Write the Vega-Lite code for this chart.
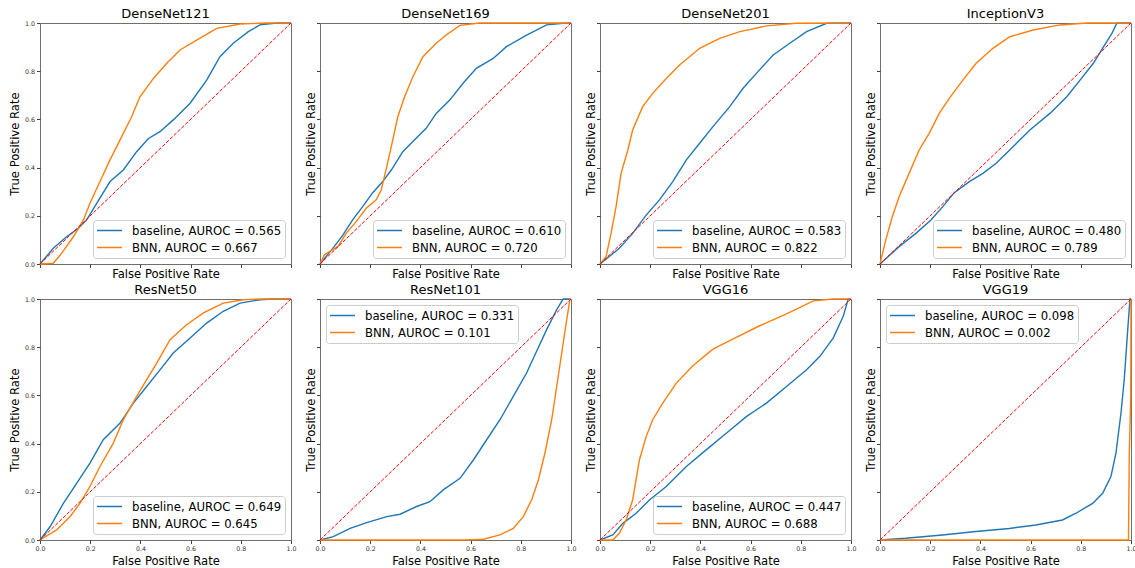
{
  "$schema": "https://vega.github.io/schema/vega-lite/v6.json",
  "padding": {"left": 8, "top": 7, "right": 0, "bottom": 0},
  "background": "white",
  "bounds": "flush",
  "columns": 4,
  "spacing": {"column": 29, "row": 35},
  "resolve": {"scale": {"color": "independent"}, "legend": {"color": "independent"}},
  "config": {
    "font": "DejaVu Sans",
    "view": {"stroke": "#6e6e6e", "strokeWidth": 1},
    "title": {"fontSize": 13, "fontWeight": "normal", "font": "DejaVu Sans", "color": "#000", "offset": -1, "frame": "group"},
    "axis": {
      "grid": false, "domain": false,
      "labelFont": "DejaVu Sans", "labelFontSize": 6.3, "labelColor": "#333",
      "titleFont": "DejaVu Sans", "titleFontSize": 11.6, "titleFontWeight": "normal", "titleColor": "#000",
      "tickSize": 3.5, "tickColor": "#444", "labelPadding": 2,
      "labelFlush": false, "labelOverlap": false,
      "values": [0, 0.2, 0.4, 0.6, 0.8, 1], "format": ".1f"
    },
    "legend": {
      "fillColor": "rgba(255,255,255,0.8)", "strokeColor": "#cccccc", "cornerRadius": 3,
      "padding": 3.5, "offset": 6, "symbolType": "M-2.08,0H2.08", "symbolSize": 144, "symbolStrokeWidth": 1.5,
      "symbolOffset": 6,
      "labelFont": "DejaVu Sans", "labelFontSize": 11.7, "labelColor": "#000", "labelOffset": 15.5, "rowPadding": 3
    }
  },
  "data": {"values": [
    {"model":"DenseNet121","series":"baseline","fpr":0,"tpr":0},
    {"model":"DenseNet121","series":"baseline","fpr":0.053,"tpr":0.065},
    {"model":"DenseNet121","series":"baseline","fpr":0.106,"tpr":0.113},
    {"model":"DenseNet121","series":"baseline","fpr":0.153,"tpr":0.148},
    {"model":"DenseNet121","series":"baseline","fpr":0.186,"tpr":0.183},
    {"model":"DenseNet121","series":"baseline","fpr":0.226,"tpr":0.252},
    {"model":"DenseNet121","series":"baseline","fpr":0.279,"tpr":0.342},
    {"model":"DenseNet121","series":"baseline","fpr":0.332,"tpr":0.39},
    {"model":"DenseNet121","series":"baseline","fpr":0.385,"tpr":0.466},
    {"model":"DenseNet121","series":"baseline","fpr":0.432,"tpr":0.521},
    {"model":"DenseNet121","series":"baseline","fpr":0.478,"tpr":0.549},
    {"model":"DenseNet121","series":"baseline","fpr":0.531,"tpr":0.598},
    {"model":"DenseNet121","series":"baseline","fpr":0.598,"tpr":0.667},
    {"model":"DenseNet121","series":"baseline","fpr":0.664,"tpr":0.763},
    {"model":"DenseNet121","series":"baseline","fpr":0.717,"tpr":0.86},
    {"model":"DenseNet121","series":"baseline","fpr":0.77,"tpr":0.916},
    {"model":"DenseNet121","series":"baseline","fpr":0.83,"tpr":0.964},
    {"model":"DenseNet121","series":"baseline","fpr":0.876,"tpr":0.992},
    {"model":"DenseNet121","series":"baseline","fpr":0.943,"tpr":1},
    {"model":"DenseNet121","series":"baseline","fpr":1,"tpr":1},
    {"model":"DenseNet121","series":"BNN","fpr":0,"tpr":0},
    {"model":"DenseNet121","series":"BNN","fpr":0.053,"tpr":0.003},
    {"model":"DenseNet121","series":"BNN","fpr":0.086,"tpr":0.044},
    {"model":"DenseNet121","series":"BNN","fpr":0.133,"tpr":0.113},
    {"model":"DenseNet121","series":"BNN","fpr":0.173,"tpr":0.183},
    {"model":"DenseNet121","series":"BNN","fpr":0.199,"tpr":0.252},
    {"model":"DenseNet121","series":"BNN","fpr":0.239,"tpr":0.342},
    {"model":"DenseNet121","series":"BNN","fpr":0.279,"tpr":0.432},
    {"model":"DenseNet121","series":"BNN","fpr":0.319,"tpr":0.515},
    {"model":"DenseNet121","series":"BNN","fpr":0.365,"tpr":0.611},
    {"model":"DenseNet121","series":"BNN","fpr":0.398,"tpr":0.694},
    {"model":"DenseNet121","series":"BNN","fpr":0.452,"tpr":0.77},
    {"model":"DenseNet121","series":"BNN","fpr":0.505,"tpr":0.833},
    {"model":"DenseNet121","series":"BNN","fpr":0.558,"tpr":0.888},
    {"model":"DenseNet121","series":"BNN","fpr":0.624,"tpr":0.929},
    {"model":"DenseNet121","series":"BNN","fpr":0.704,"tpr":0.978},
    {"model":"DenseNet121","series":"BNN","fpr":0.797,"tpr":0.996},
    {"model":"DenseNet121","series":"BNN","fpr":0.903,"tpr":1},
    {"model":"DenseNet121","series":"BNN","fpr":1,"tpr":1},

    {"model":"DenseNet169","series":"baseline","fpr":0,"tpr":0},
    {"model":"DenseNet169","series":"baseline","fpr":0.051,"tpr":0.065},
    {"model":"DenseNet169","series":"baseline","fpr":0.091,"tpr":0.12},
    {"model":"DenseNet169","series":"baseline","fpr":0.13,"tpr":0.183},
    {"model":"DenseNet169","series":"baseline","fpr":0.17,"tpr":0.238},
    {"model":"DenseNet169","series":"baseline","fpr":0.21,"tpr":0.296},
    {"model":"DenseNet169","series":"baseline","fpr":0.25,"tpr":0.342},
    {"model":"DenseNet169","series":"baseline","fpr":0.284,"tpr":0.39},
    {"model":"DenseNet169","series":"baseline","fpr":0.33,"tpr":0.466},
    {"model":"DenseNet169","series":"baseline","fpr":0.37,"tpr":0.508},
    {"model":"DenseNet169","series":"baseline","fpr":0.423,"tpr":0.563},
    {"model":"DenseNet169","series":"baseline","fpr":0.463,"tpr":0.625},
    {"model":"DenseNet169","series":"baseline","fpr":0.517,"tpr":0.68},
    {"model":"DenseNet169","series":"baseline","fpr":0.57,"tpr":0.75},
    {"model":"DenseNet169","series":"baseline","fpr":0.623,"tpr":0.812},
    {"model":"DenseNet169","series":"baseline","fpr":0.69,"tpr":0.853},
    {"model":"DenseNet169","series":"baseline","fpr":0.743,"tpr":0.902},
    {"model":"DenseNet169","series":"baseline","fpr":0.823,"tpr":0.95},
    {"model":"DenseNet169","series":"baseline","fpr":0.903,"tpr":0.992},
    {"model":"DenseNet169","series":"baseline","fpr":0.969,"tpr":0.999},
    {"model":"DenseNet169","series":"baseline","fpr":1,"tpr":1},
    {"model":"DenseNet169","series":"BNN","fpr":0,"tpr":0},
    {"model":"DenseNet169","series":"BNN","fpr":0.017,"tpr":0.037},
    {"model":"DenseNet169","series":"BNN","fpr":0.037,"tpr":0.051},
    {"model":"DenseNet169","series":"BNN","fpr":0.071,"tpr":0.072},
    {"model":"DenseNet169","series":"BNN","fpr":0.104,"tpr":0.127},
    {"model":"DenseNet169","series":"BNN","fpr":0.144,"tpr":0.176},
    {"model":"DenseNet169","series":"BNN","fpr":0.184,"tpr":0.231},
    {"model":"DenseNet169","series":"BNN","fpr":0.224,"tpr":0.266},
    {"model":"DenseNet169","series":"BNN","fpr":0.244,"tpr":0.307},
    {"model":"DenseNet169","series":"BNN","fpr":0.266,"tpr":0.404},
    {"model":"DenseNet169","series":"BNN","fpr":0.284,"tpr":0.487},
    {"model":"DenseNet169","series":"BNN","fpr":0.31,"tpr":0.611},
    {"model":"DenseNet169","series":"BNN","fpr":0.337,"tpr":0.694},
    {"model":"DenseNet169","series":"BNN","fpr":0.37,"tpr":0.777},
    {"model":"DenseNet169","series":"BNN","fpr":0.41,"tpr":0.86},
    {"model":"DenseNet169","series":"BNN","fpr":0.463,"tpr":0.916},
    {"model":"DenseNet169","series":"BNN","fpr":0.503,"tpr":0.95},
    {"model":"DenseNet169","series":"BNN","fpr":0.557,"tpr":0.99},
    {"model":"DenseNet169","series":"BNN","fpr":0.636,"tpr":1},
    {"model":"DenseNet169","series":"BNN","fpr":1,"tpr":1},

    {"model":"DenseNet201","series":"baseline","fpr":0,"tpr":0},
    {"model":"DenseNet201","series":"baseline","fpr":0.077,"tpr":0.065},
    {"model":"DenseNet201","series":"baseline","fpr":0.13,"tpr":0.127},
    {"model":"DenseNet201","series":"baseline","fpr":0.184,"tpr":0.203},
    {"model":"DenseNet201","series":"baseline","fpr":0.237,"tpr":0.266},
    {"model":"DenseNet201","series":"baseline","fpr":0.29,"tpr":0.342},
    {"model":"DenseNet201","series":"baseline","fpr":0.344,"tpr":0.432},
    {"model":"DenseNet201","series":"baseline","fpr":0.397,"tpr":0.501},
    {"model":"DenseNet201","series":"baseline","fpr":0.45,"tpr":0.57},
    {"model":"DenseNet201","series":"baseline","fpr":0.517,"tpr":0.653},
    {"model":"DenseNet201","series":"baseline","fpr":0.57,"tpr":0.729},
    {"model":"DenseNet201","series":"baseline","fpr":0.623,"tpr":0.791},
    {"model":"DenseNet201","series":"baseline","fpr":0.69,"tpr":0.867},
    {"model":"DenseNet201","series":"baseline","fpr":0.756,"tpr":0.916},
    {"model":"DenseNet201","series":"baseline","fpr":0.823,"tpr":0.964},
    {"model":"DenseNet201","series":"baseline","fpr":0.903,"tpr":0.999},
    {"model":"DenseNet201","series":"baseline","fpr":1,"tpr":1},
    {"model":"DenseNet201","series":"BNN","fpr":0,"tpr":0},
    {"model":"DenseNet201","series":"BNN","fpr":0.024,"tpr":0.03},
    {"model":"DenseNet201","series":"BNN","fpr":0.044,"tpr":0.127},
    {"model":"DenseNet201","series":"BNN","fpr":0.064,"tpr":0.238},
    {"model":"DenseNet201","series":"BNN","fpr":0.084,"tpr":0.376},
    {"model":"DenseNet201","series":"BNN","fpr":0.111,"tpr":0.473},
    {"model":"DenseNet201","series":"BNN","fpr":0.13,"tpr":0.556},
    {"model":"DenseNet201","series":"BNN","fpr":0.17,"tpr":0.653},
    {"model":"DenseNet201","series":"BNN","fpr":0.21,"tpr":0.708},
    {"model":"DenseNet201","series":"BNN","fpr":0.264,"tpr":0.77},
    {"model":"DenseNet201","series":"BNN","fpr":0.317,"tpr":0.826},
    {"model":"DenseNet201","series":"BNN","fpr":0.397,"tpr":0.895},
    {"model":"DenseNet201","series":"BNN","fpr":0.477,"tpr":0.936},
    {"model":"DenseNet201","series":"BNN","fpr":0.557,"tpr":0.964},
    {"model":"DenseNet201","series":"BNN","fpr":0.663,"tpr":0.988},
    {"model":"DenseNet201","series":"BNN","fpr":0.783,"tpr":0.999},
    {"model":"DenseNet201","series":"BNN","fpr":1,"tpr":1},

    {"model":"InceptionV3","series":"baseline","fpr":0,"tpr":0},
    {"model":"InceptionV3","series":"baseline","fpr":0.076,"tpr":0.072},
    {"model":"InceptionV3","series":"baseline","fpr":0.143,"tpr":0.127},
    {"model":"InceptionV3","series":"baseline","fpr":0.203,"tpr":0.183},
    {"model":"InceptionV3","series":"baseline","fpr":0.25,"tpr":0.238},
    {"model":"InceptionV3","series":"baseline","fpr":0.296,"tpr":0.296},
    {"model":"InceptionV3","series":"baseline","fpr":0.356,"tpr":0.342},
    {"model":"InceptionV3","series":"baseline","fpr":0.41,"tpr":0.376},
    {"model":"InceptionV3","series":"baseline","fpr":0.463,"tpr":0.418},
    {"model":"InceptionV3","series":"baseline","fpr":0.53,"tpr":0.487},
    {"model":"InceptionV3","series":"baseline","fpr":0.597,"tpr":0.556},
    {"model":"InceptionV3","series":"baseline","fpr":0.677,"tpr":0.625},
    {"model":"InceptionV3","series":"baseline","fpr":0.744,"tpr":0.694},
    {"model":"InceptionV3","series":"baseline","fpr":0.797,"tpr":0.763},
    {"model":"InceptionV3","series":"baseline","fpr":0.85,"tpr":0.833},
    {"model":"InceptionV3","series":"baseline","fpr":0.891,"tpr":0.902},
    {"model":"InceptionV3","series":"baseline","fpr":0.924,"tpr":0.957},
    {"model":"InceptionV3","series":"baseline","fpr":0.944,"tpr":1},
    {"model":"InceptionV3","series":"baseline","fpr":1,"tpr":1},
    {"model":"InceptionV3","series":"BNN","fpr":0,"tpr":0},
    {"model":"InceptionV3","series":"BNN","fpr":0.023,"tpr":0.1},
    {"model":"InceptionV3","series":"BNN","fpr":0.049,"tpr":0.196},
    {"model":"InceptionV3","series":"BNN","fpr":0.076,"tpr":0.279},
    {"model":"InceptionV3","series":"BNN","fpr":0.116,"tpr":0.376},
    {"model":"InceptionV3","series":"BNN","fpr":0.156,"tpr":0.473},
    {"model":"InceptionV3","series":"BNN","fpr":0.196,"tpr":0.542},
    {"model":"InceptionV3","series":"BNN","fpr":0.236,"tpr":0.625},
    {"model":"InceptionV3","series":"BNN","fpr":0.276,"tpr":0.687},
    {"model":"InceptionV3","series":"BNN","fpr":0.33,"tpr":0.763},
    {"model":"InceptionV3","series":"BNN","fpr":0.383,"tpr":0.833},
    {"model":"InceptionV3","series":"BNN","fpr":0.45,"tpr":0.895},
    {"model":"InceptionV3","series":"BNN","fpr":0.517,"tpr":0.943},
    {"model":"InceptionV3","series":"BNN","fpr":0.61,"tpr":0.971},
    {"model":"InceptionV3","series":"BNN","fpr":0.717,"tpr":0.992},
    {"model":"InceptionV3","series":"BNN","fpr":0.824,"tpr":1},
    {"model":"InceptionV3","series":"BNN","fpr":1,"tpr":1},

    {"model":"ResNet50","series":"baseline","fpr":0,"tpr":0},
    {"model":"ResNet50","series":"baseline","fpr":0.04,"tpr":0.055},
    {"model":"ResNet50","series":"baseline","fpr":0.093,"tpr":0.152},
    {"model":"ResNet50","series":"baseline","fpr":0.146,"tpr":0.235},
    {"model":"ResNet50","series":"baseline","fpr":0.199,"tpr":0.319},
    {"model":"ResNet50","series":"baseline","fpr":0.252,"tpr":0.416},
    {"model":"ResNet50","series":"baseline","fpr":0.319,"tpr":0.485},
    {"model":"ResNet50","series":"baseline","fpr":0.372,"tpr":0.568},
    {"model":"ResNet50","series":"baseline","fpr":0.425,"tpr":0.637},
    {"model":"ResNet50","series":"baseline","fpr":0.478,"tpr":0.706},
    {"model":"ResNet50","series":"baseline","fpr":0.531,"tpr":0.776},
    {"model":"ResNet50","series":"baseline","fpr":0.598,"tpr":0.838},
    {"model":"ResNet50","series":"baseline","fpr":0.664,"tpr":0.9},
    {"model":"ResNet50","series":"baseline","fpr":0.73,"tpr":0.949},
    {"model":"ResNet50","series":"baseline","fpr":0.797,"tpr":0.983},
    {"model":"ResNet50","series":"baseline","fpr":0.876,"tpr":0.997},
    {"model":"ResNet50","series":"baseline","fpr":0.93,"tpr":1},
    {"model":"ResNet50","series":"baseline","fpr":1,"tpr":1},
    {"model":"ResNet50","series":"BNN","fpr":0,"tpr":0},
    {"model":"ResNet50","series":"BNN","fpr":0.066,"tpr":0.042},
    {"model":"ResNet50","series":"BNN","fpr":0.12,"tpr":0.097},
    {"model":"ResNet50","series":"BNN","fpr":0.159,"tpr":0.152},
    {"model":"ResNet50","series":"BNN","fpr":0.199,"tpr":0.222},
    {"model":"ResNet50","series":"BNN","fpr":0.239,"tpr":0.305},
    {"model":"ResNet50","series":"BNN","fpr":0.292,"tpr":0.402},
    {"model":"ResNet50","series":"BNN","fpr":0.332,"tpr":0.499},
    {"model":"ResNet50","series":"BNN","fpr":0.385,"tpr":0.596},
    {"model":"ResNet50","series":"BNN","fpr":0.425,"tpr":0.665},
    {"model":"ResNet50","series":"BNN","fpr":0.465,"tpr":0.734},
    {"model":"ResNet50","series":"BNN","fpr":0.518,"tpr":0.831},
    {"model":"ResNet50","series":"BNN","fpr":0.584,"tpr":0.893},
    {"model":"ResNet50","series":"BNN","fpr":0.651,"tpr":0.942},
    {"model":"ResNet50","series":"BNN","fpr":0.73,"tpr":0.983},
    {"model":"ResNet50","series":"BNN","fpr":0.81,"tpr":0.997},
    {"model":"ResNet50","series":"BNN","fpr":0.876,"tpr":1},
    {"model":"ResNet50","series":"BNN","fpr":1,"tpr":1},

    {"model":"ResNet101","series":"baseline","fpr":0,"tpr":0},
    {"model":"ResNet101","series":"baseline","fpr":0.053,"tpr":0.014},
    {"model":"ResNet101","series":"baseline","fpr":0.12,"tpr":0.048},
    {"model":"ResNet101","series":"baseline","fpr":0.186,"tpr":0.072},
    {"model":"ResNet101","series":"baseline","fpr":0.266,"tpr":0.097},
    {"model":"ResNet101","series":"baseline","fpr":0.319,"tpr":0.107},
    {"model":"ResNet101","series":"baseline","fpr":0.385,"tpr":0.139},
    {"model":"ResNet101","series":"baseline","fpr":0.438,"tpr":0.159},
    {"model":"ResNet101","series":"baseline","fpr":0.491,"tpr":0.208},
    {"model":"ResNet101","series":"baseline","fpr":0.558,"tpr":0.256},
    {"model":"ResNet101","series":"baseline","fpr":0.611,"tpr":0.332},
    {"model":"ResNet101","series":"baseline","fpr":0.664,"tpr":0.416},
    {"model":"ResNet101","series":"baseline","fpr":0.717,"tpr":0.499},
    {"model":"ResNet101","series":"baseline","fpr":0.77,"tpr":0.596},
    {"model":"ResNet101","series":"baseline","fpr":0.823,"tpr":0.693},
    {"model":"ResNet101","series":"baseline","fpr":0.863,"tpr":0.783},
    {"model":"ResNet101","series":"baseline","fpr":0.903,"tpr":0.873},
    {"model":"ResNet101","series":"baseline","fpr":0.943,"tpr":0.956},
    {"model":"ResNet101","series":"baseline","fpr":0.969,"tpr":1},
    {"model":"ResNet101","series":"baseline","fpr":1,"tpr":1},
    {"model":"ResNet101","series":"BNN","fpr":0,"tpr":0},
    {"model":"ResNet101","series":"BNN","fpr":0.578,"tpr":0},
    {"model":"ResNet101","series":"BNN","fpr":0.651,"tpr":0.003},
    {"model":"ResNet101","series":"BNN","fpr":0.717,"tpr":0.021},
    {"model":"ResNet101","series":"BNN","fpr":0.77,"tpr":0.048},
    {"model":"ResNet101","series":"BNN","fpr":0.81,"tpr":0.097},
    {"model":"ResNet101","series":"BNN","fpr":0.843,"tpr":0.166},
    {"model":"ResNet101","series":"BNN","fpr":0.87,"tpr":0.249},
    {"model":"ResNet101","series":"BNN","fpr":0.896,"tpr":0.36},
    {"model":"ResNet101","series":"BNN","fpr":0.923,"tpr":0.499},
    {"model":"ResNet101","series":"BNN","fpr":0.943,"tpr":0.637},
    {"model":"ResNet101","series":"BNN","fpr":0.963,"tpr":0.776},
    {"model":"ResNet101","series":"BNN","fpr":0.983,"tpr":0.914},
    {"model":"ResNet101","series":"BNN","fpr":0.996,"tpr":1},
    {"model":"ResNet101","series":"BNN","fpr":1,"tpr":1},

    {"model":"VGG16","series":"baseline","fpr":0,"tpr":0},
    {"model":"VGG16","series":"baseline","fpr":0.051,"tpr":0.021},
    {"model":"VGG16","series":"baseline","fpr":0.091,"tpr":0.069},
    {"model":"VGG16","series":"baseline","fpr":0.144,"tpr":0.111},
    {"model":"VGG16","series":"baseline","fpr":0.197,"tpr":0.166},
    {"model":"VGG16","series":"baseline","fpr":0.264,"tpr":0.222},
    {"model":"VGG16","series":"baseline","fpr":0.344,"tpr":0.305},
    {"model":"VGG16","series":"baseline","fpr":0.423,"tpr":0.374},
    {"model":"VGG16","series":"baseline","fpr":0.503,"tpr":0.443},
    {"model":"VGG16","series":"baseline","fpr":0.583,"tpr":0.512},
    {"model":"VGG16","series":"baseline","fpr":0.663,"tpr":0.568},
    {"model":"VGG16","series":"baseline","fpr":0.743,"tpr":0.637},
    {"model":"VGG16","series":"baseline","fpr":0.823,"tpr":0.706},
    {"model":"VGG16","series":"baseline","fpr":0.876,"tpr":0.762},
    {"model":"VGG16","series":"baseline","fpr":0.929,"tpr":0.838},
    {"model":"VGG16","series":"baseline","fpr":0.969,"tpr":0.928},
    {"model":"VGG16","series":"baseline","fpr":0.989,"tpr":1},
    {"model":"VGG16","series":"baseline","fpr":1,"tpr":1},
    {"model":"VGG16","series":"BNN","fpr":0,"tpr":0},
    {"model":"VGG16","series":"BNN","fpr":0.051,"tpr":0},
    {"model":"VGG16","series":"BNN","fpr":0.077,"tpr":0.028},
    {"model":"VGG16","series":"BNN","fpr":0.104,"tpr":0.083},
    {"model":"VGG16","series":"BNN","fpr":0.13,"tpr":0.166},
    {"model":"VGG16","series":"BNN","fpr":0.157,"tpr":0.332},
    {"model":"VGG16","series":"BNN","fpr":0.184,"tpr":0.429},
    {"model":"VGG16","series":"BNN","fpr":0.21,"tpr":0.499},
    {"model":"VGG16","series":"BNN","fpr":0.25,"tpr":0.568},
    {"model":"VGG16","series":"BNN","fpr":0.304,"tpr":0.651},
    {"model":"VGG16","series":"BNN","fpr":0.37,"tpr":0.723},
    {"model":"VGG16","series":"BNN","fpr":0.45,"tpr":0.792},
    {"model":"VGG16","series":"BNN","fpr":0.543,"tpr":0.841},
    {"model":"VGG16","series":"BNN","fpr":0.636,"tpr":0.889},
    {"model":"VGG16","series":"BNN","fpr":0.743,"tpr":0.938},
    {"model":"VGG16","series":"BNN","fpr":0.85,"tpr":0.992},
    {"model":"VGG16","series":"BNN","fpr":0.929,"tpr":1},
    {"model":"VGG16","series":"BNN","fpr":1,"tpr":1},

    {"model":"VGG19","series":"baseline","fpr":0,"tpr":0},
    {"model":"VGG19","series":"baseline","fpr":0.102,"tpr":0.007},
    {"model":"VGG19","series":"baseline","fpr":0.249,"tpr":0.021},
    {"model":"VGG19","series":"baseline","fpr":0.382,"tpr":0.035},
    {"model":"VGG19","series":"baseline","fpr":0.515,"tpr":0.048},
    {"model":"VGG19","series":"baseline","fpr":0.621,"tpr":0.062},
    {"model":"VGG19","series":"baseline","fpr":0.727,"tpr":0.083},
    {"model":"VGG19","series":"baseline","fpr":0.781,"tpr":0.111},
    {"model":"VGG19","series":"baseline","fpr":0.847,"tpr":0.152},
    {"model":"VGG19","series":"baseline","fpr":0.887,"tpr":0.194},
    {"model":"VGG19","series":"baseline","fpr":0.92,"tpr":0.263},
    {"model":"VGG19","series":"baseline","fpr":0.94,"tpr":0.36},
    {"model":"VGG19","series":"baseline","fpr":0.96,"tpr":0.526},
    {"model":"VGG19","series":"baseline","fpr":0.973,"tpr":0.665},
    {"model":"VGG19","series":"baseline","fpr":0.987,"tpr":0.873},
    {"model":"VGG19","series":"baseline","fpr":0.996,"tpr":1},
    {"model":"VGG19","series":"baseline","fpr":1,"tpr":1},
    {"model":"VGG19","series":"BNN","fpr":0,"tpr":0},
    {"model":"VGG19","series":"BNN","fpr":0.99,"tpr":0},
    {"model":"VGG19","series":"BNN","fpr":0.993,"tpr":0.35},
    {"model":"VGG19","series":"BNN","fpr":0.999,"tpr":0.6},
    {"model":"VGG19","series":"BNN","fpr":1,"tpr":1}
  ]},
  "concat": [
    {
      "title": "DenseNet121", "width": 251, "height": 241,
      "layer": [
        {"transform": [{"filter": "datum.model == 'DenseNet121'"}],
         "mark": {"type": "line", "strokeWidth": 1.4},
         "encoding": {
           "x": {"field": "fpr", "type": "quantitative", "scale": {"domain": [0, 1], "nice": false}, "axis": {"title": "False Positive Rate", "labels": false, "titlePadding": 0}},
           "y": {"field": "tpr", "type": "quantitative", "scale": {"domain": [0, 1], "nice": false}, "axis": {"title": "True Positive Rate"}},
           "color": {"field": "series", "type": "nominal", "scale": {"domain": ["baseline", "BNN"], "range": ["#1f77b4", "#ff7f0e"]},
             "legend": {"title": null, "orient": "bottom-right", "labelExpr": "datum.label == 'baseline' ? 'baseline, AUROC = 0.565' : 'BNN, AUROC = 0.667'"}}
         }},
        {"data": {"values": [{}]},
         "mark": {"type": "rule", "color": "#ff0000", "strokeDash": [3.7, 1.6], "strokeWidth": 1},
         "encoding": {"x": {"datum": 0, "type": "quantitative"}, "y": {"datum": 0, "type": "quantitative"}, "x2": {"datum": 1}, "y2": {"datum": 1}}}
      ]
    },
    {
      "title": "DenseNet169", "width": 251, "height": 241,
      "layer": [
        {"transform": [{"filter": "datum.model == 'DenseNet169'"}],
         "mark": {"type": "line", "strokeWidth": 1.4},
         "encoding": {
           "x": {"field": "fpr", "type": "quantitative", "scale": {"domain": [0, 1], "nice": false}, "axis": {"title": "False Positive Rate", "labels": false, "titlePadding": 0}},
           "y": {"field": "tpr", "type": "quantitative", "scale": {"domain": [0, 1], "nice": false}, "axis": {"title": "True Positive Rate", "labels": false, "titlePadding": 0}},
           "color": {"field": "series", "type": "nominal", "scale": {"domain": ["baseline", "BNN"], "range": ["#1f77b4", "#ff7f0e"]},
             "legend": {"title": null, "orient": "bottom-right", "labelExpr": "datum.label == 'baseline' ? 'baseline, AUROC = 0.610' : 'BNN, AUROC = 0.720'"}}
         }},
        {"data": {"values": [{}]},
         "mark": {"type": "rule", "color": "#ff0000", "strokeDash": [3.7, 1.6], "strokeWidth": 1},
         "encoding": {"x": {"datum": 0, "type": "quantitative"}, "y": {"datum": 0, "type": "quantitative"}, "x2": {"datum": 1}, "y2": {"datum": 1}}}
      ]
    },
    {
      "title": "DenseNet201", "width": 251, "height": 241,
      "layer": [
        {"transform": [{"filter": "datum.model == 'DenseNet201'"}],
         "mark": {"type": "line", "strokeWidth": 1.4},
         "encoding": {
           "x": {"field": "fpr", "type": "quantitative", "scale": {"domain": [0, 1], "nice": false}, "axis": {"title": "False Positive Rate", "labels": false, "titlePadding": 0}},
           "y": {"field": "tpr", "type": "quantitative", "scale": {"domain": [0, 1], "nice": false}, "axis": {"title": "True Positive Rate", "labels": false, "titlePadding": 0}},
           "color": {"field": "series", "type": "nominal", "scale": {"domain": ["baseline", "BNN"], "range": ["#1f77b4", "#ff7f0e"]},
             "legend": {"title": null, "orient": "bottom-right", "labelExpr": "datum.label == 'baseline' ? 'baseline, AUROC = 0.583' : 'BNN, AUROC = 0.822'"}}
         }},
        {"data": {"values": [{}]},
         "mark": {"type": "rule", "color": "#ff0000", "strokeDash": [3.7, 1.6], "strokeWidth": 1},
         "encoding": {"x": {"datum": 0, "type": "quantitative"}, "y": {"datum": 0, "type": "quantitative"}, "x2": {"datum": 1}, "y2": {"datum": 1}}}
      ]
    },
    {
      "title": "InceptionV3", "width": 251, "height": 241,
      "layer": [
        {"transform": [{"filter": "datum.model == 'InceptionV3'"}],
         "mark": {"type": "line", "strokeWidth": 1.4},
         "encoding": {
           "x": {"field": "fpr", "type": "quantitative", "scale": {"domain": [0, 1], "nice": false}, "axis": {"title": "False Positive Rate", "labels": false, "titlePadding": 0}},
           "y": {"field": "tpr", "type": "quantitative", "scale": {"domain": [0, 1], "nice": false}, "axis": {"title": "True Positive Rate", "labels": false, "titlePadding": 0}},
           "color": {"field": "series", "type": "nominal", "scale": {"domain": ["baseline", "BNN"], "range": ["#1f77b4", "#ff7f0e"]},
             "legend": {"title": null, "orient": "bottom-right", "labelExpr": "datum.label == 'baseline' ? 'baseline, AUROC = 0.480' : 'BNN, AUROC = 0.789'"}}
         }},
        {"data": {"values": [{}]},
         "mark": {"type": "rule", "color": "#ff0000", "strokeDash": [3.7, 1.6], "strokeWidth": 1},
         "encoding": {"x": {"datum": 0, "type": "quantitative"}, "y": {"datum": 0, "type": "quantitative"}, "x2": {"datum": 1}, "y2": {"datum": 1}}}
      ]
    },
    {
      "title": "ResNet50", "width": 251, "height": 241,
      "layer": [
        {"transform": [{"filter": "datum.model == 'ResNet50'"}],
         "mark": {"type": "line", "strokeWidth": 1.4},
         "encoding": {
           "x": {"field": "fpr", "type": "quantitative", "scale": {"domain": [0, 1], "nice": false}, "axis": {"title": "False Positive Rate"}},
           "y": {"field": "tpr", "type": "quantitative", "scale": {"domain": [0, 1], "nice": false}, "axis": {"title": "True Positive Rate"}},
           "color": {"field": "series", "type": "nominal", "scale": {"domain": ["baseline", "BNN"], "range": ["#1f77b4", "#ff7f0e"]},
             "legend": {"title": null, "orient": "bottom-right", "labelExpr": "datum.label == 'baseline' ? 'baseline, AUROC = 0.649' : 'BNN, AUROC = 0.645'"}}
         }},
        {"data": {"values": [{}]},
         "mark": {"type": "rule", "color": "#ff0000", "strokeDash": [3.7, 1.6], "strokeWidth": 1},
         "encoding": {"x": {"datum": 0, "type": "quantitative"}, "y": {"datum": 0, "type": "quantitative"}, "x2": {"datum": 1}, "y2": {"datum": 1}}}
      ]
    },
    {
      "title": "ResNet101", "width": 251, "height": 241,
      "layer": [
        {"transform": [{"filter": "datum.model == 'ResNet101'"}],
         "mark": {"type": "line", "strokeWidth": 1.4},
         "encoding": {
           "x": {"field": "fpr", "type": "quantitative", "scale": {"domain": [0, 1], "nice": false}, "axis": {"title": "False Positive Rate"}},
           "y": {"field": "tpr", "type": "quantitative", "scale": {"domain": [0, 1], "nice": false}, "axis": {"title": "True Positive Rate", "labels": false, "titlePadding": 0}},
           "color": {"field": "series", "type": "nominal", "scale": {"domain": ["baseline", "BNN"], "range": ["#1f77b4", "#ff7f0e"]},
             "legend": {"title": null, "orient": "top-left", "labelExpr": "datum.label == 'baseline' ? 'baseline, AUROC = 0.331' : 'BNN, AUROC = 0.101'"}}
         }},
        {"data": {"values": [{}]},
         "mark": {"type": "rule", "color": "#ff0000", "strokeDash": [3.7, 1.6], "strokeWidth": 1},
         "encoding": {"x": {"datum": 0, "type": "quantitative"}, "y": {"datum": 0, "type": "quantitative"}, "x2": {"datum": 1}, "y2": {"datum": 1}}}
      ]
    },
    {
      "title": "VGG16", "width": 251, "height": 241,
      "layer": [
        {"transform": [{"filter": "datum.model == 'VGG16'"}],
         "mark": {"type": "line", "strokeWidth": 1.4},
         "encoding": {
           "x": {"field": "fpr", "type": "quantitative", "scale": {"domain": [0, 1], "nice": false}, "axis": {"title": "False Positive Rate"}},
           "y": {"field": "tpr", "type": "quantitative", "scale": {"domain": [0, 1], "nice": false}, "axis": {"title": "True Positive Rate", "labels": false, "titlePadding": 0}},
           "color": {"field": "series", "type": "nominal", "scale": {"domain": ["baseline", "BNN"], "range": ["#1f77b4", "#ff7f0e"]},
             "legend": {"title": null, "orient": "bottom-right", "labelExpr": "datum.label == 'baseline' ? 'baseline, AUROC = 0.447' : 'BNN, AUROC = 0.688'"}}
         }},
        {"data": {"values": [{}]},
         "mark": {"type": "rule", "color": "#ff0000", "strokeDash": [3.7, 1.6], "strokeWidth": 1},
         "encoding": {"x": {"datum": 0, "type": "quantitative"}, "y": {"datum": 0, "type": "quantitative"}, "x2": {"datum": 1}, "y2": {"datum": 1}}}
      ]
    },
    {
      "title": "VGG19", "width": 251, "height": 241,
      "layer": [
        {"transform": [{"filter": "datum.model == 'VGG19'"}],
         "mark": {"type": "line", "strokeWidth": 1.4},
         "encoding": {
           "x": {"field": "fpr", "type": "quantitative", "scale": {"domain": [0, 1], "nice": false}, "axis": {"title": "False Positive Rate"}},
           "y": {"field": "tpr", "type": "quantitative", "scale": {"domain": [0, 1], "nice": false}, "axis": {"title": "True Positive Rate", "labels": false, "titlePadding": 0}},
           "color": {"field": "series", "type": "nominal", "scale": {"domain": ["baseline", "BNN"], "range": ["#1f77b4", "#ff7f0e"]},
             "legend": {"title": null, "orient": "top-left", "labelExpr": "datum.label == 'baseline' ? 'baseline, AUROC = 0.098' : 'BNN, AUROC = 0.002'"}}
         }},
        {"data": {"values": [{}]},
         "mark": {"type": "rule", "color": "#ff0000", "strokeDash": [3.7, 1.6], "strokeWidth": 1},
         "encoding": {"x": {"datum": 0, "type": "quantitative"}, "y": {"datum": 0, "type": "quantitative"}, "x2": {"datum": 1}, "y2": {"datum": 1}}}
      ]
    }
  ]
}
